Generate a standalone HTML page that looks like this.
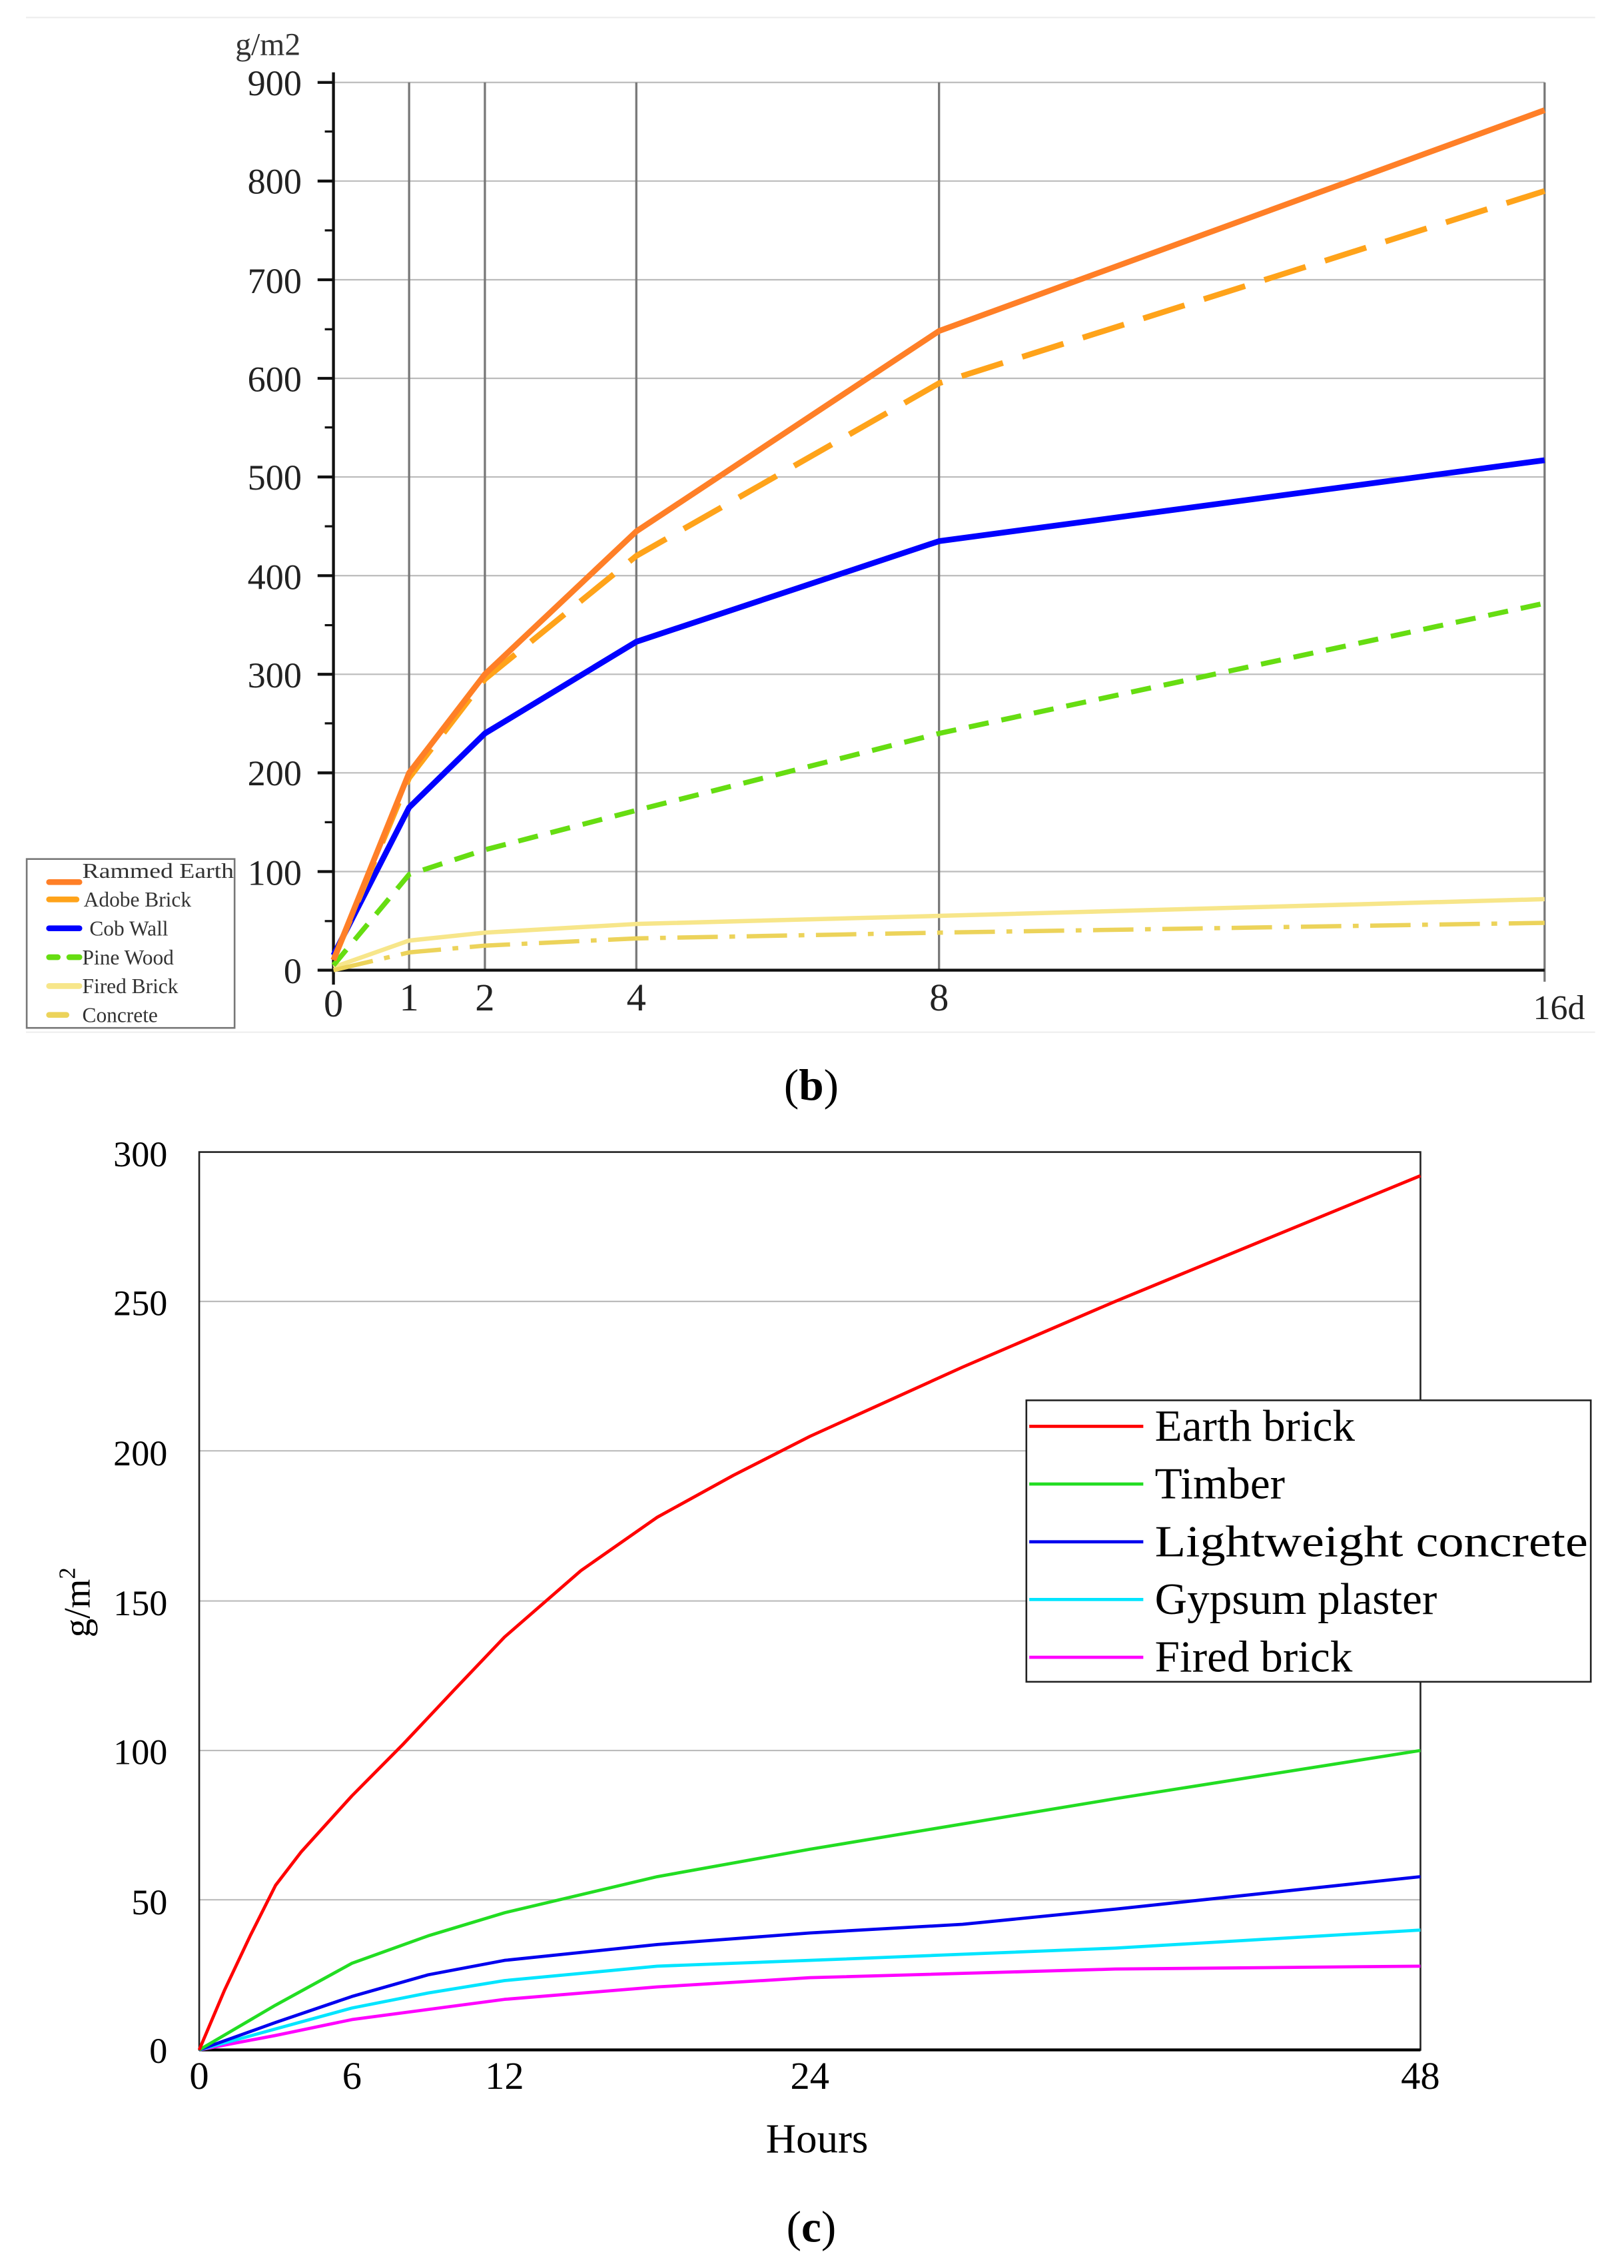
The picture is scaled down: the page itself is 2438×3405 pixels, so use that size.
<!DOCTYPE html>
<html><head><meta charset="utf-8"><style>html,body{margin:0;padding:0;background:#fff}svg{display:block}</style></head>
<body>
<svg width="2438" height="3405" viewBox="0 0 1125 1571" xmlns="http://www.w3.org/2000/svg" font-family="Liberation Serif, serif">
<rect width="1125" height="1571" fill="#fff"/>
<!-- chart b -->
<line x1="18" y1="12" x2="1105" y2="12" stroke="#eee" stroke-width="1"/>
<line x1="18" y1="715" x2="1105" y2="715" stroke="#eee" stroke-width="1"/>
<g stroke="#bbb" stroke-width="1">
<line x1="231" y1="57" x2="1070" y2="57"/><line x1="231" y1="125.3" x2="1070" y2="125.3"/><line x1="231" y1="193.7" x2="1070" y2="193.7"/><line x1="231" y1="262" x2="1070" y2="262"/><line x1="231" y1="330.3" x2="1070" y2="330.3"/><line x1="231" y1="398.7" x2="1070" y2="398.7"/><line x1="231" y1="467" x2="1070" y2="467"/><line x1="231" y1="535.3" x2="1070" y2="535.3"/><line x1="231" y1="603.7" x2="1070" y2="603.7"/>
</g>
<g stroke="#777" stroke-width="1.5">
<line x1="283.4" y1="57" x2="283.4" y2="672"/><line x1="335.9" y1="57" x2="335.9" y2="672"/><line x1="440.8" y1="57" x2="440.8" y2="672"/><line x1="650.5" y1="57" x2="650.5" y2="672"/><line x1="1070" y1="57" x2="1070" y2="680"/>
</g>
<g stroke="#111" stroke-width="2">
<line x1="231" y1="50" x2="231" y2="682"/><line x1="220" y1="672" x2="1070" y2="672"/>
<line x1="220" y1="57" x2="231" y2="57"/><line x1="220" y1="125.3" x2="231" y2="125.3"/><line x1="220" y1="193.7" x2="231" y2="193.7"/><line x1="220" y1="262" x2="231" y2="262"/><line x1="220" y1="330.3" x2="231" y2="330.3"/><line x1="220" y1="398.7" x2="231" y2="398.7"/><line x1="220" y1="467" x2="231" y2="467"/><line x1="220" y1="535.3" x2="231" y2="535.3"/><line x1="220" y1="603.7" x2="231" y2="603.7"/>
</g>
<g stroke="#111" stroke-width="1.5">
<line x1="225" y1="91" x2="231" y2="91"/><line x1="225" y1="159.5" x2="231" y2="159.5"/><line x1="225" y1="228" x2="231" y2="228"/><line x1="225" y1="296" x2="231" y2="296"/><line x1="225" y1="364.5" x2="231" y2="364.5"/><line x1="225" y1="433" x2="231" y2="433"/><line x1="225" y1="501" x2="231" y2="501"/><line x1="225" y1="569.5" x2="231" y2="569.5"/><line x1="225" y1="638" x2="231" y2="638"/>
</g>
<g font-size="25" fill="#222" text-anchor="end">
<text x="209" y="66">900</text><text x="209" y="134">800</text><text x="209" y="203">700</text><text x="209" y="271">600</text><text x="209" y="339">500</text><text x="209" y="408">400</text><text x="209" y="476">300</text><text x="209" y="544">200</text><text x="209" y="613">100</text><text x="209" y="681">0</text>
</g>
<text x="163" y="38" font-size="22" fill="#333">g/m2</text>
<g font-size="27" fill="#222" text-anchor="middle">
<text x="231" y="704">0</text><text x="283.4" y="700">1</text><text x="335.9" y="700">2</text><text x="440.8" y="700">4</text><text x="650.5" y="700">8</text><text x="1080" y="706" font-size="24">16d</text>
</g>
<g fill="none" stroke-width="4" stroke-linejoin="round">
<polyline stroke="#f7e68a" stroke-width="3" points="231,670 283.4,651.5 335.9,646 440.8,640 650.5,634.4 1070,622.8"/>
<polyline stroke="#ecd35a" stroke-width="3" stroke-dasharray="28,8,4,8" points="231,672 283.4,659.7 335.9,655 440.8,650 650.5,646 1070,639.2"/>
<polyline stroke="#66dd11" stroke-width="3.5" stroke-dasharray="14,9" points="231,668.6 283.4,605.7 335.9,588.6 440.8,561.3 650.5,508 1070,417.8"/>
<polyline stroke="#0000ff" points="231,661.7 283.4,559.3 335.9,508 440.8,444.5 650.5,374.8 1070,318.7"/>
<polyline stroke="#ffa31a" stroke-dasharray="30,14" points="231,665 283.4,538.8 335.9,470.4 440.8,385 650.5,265.4 1070,132.2"/>
<polyline stroke="#ff7f27" points="231,665 283.4,535.3 335.9,467 440.8,368 650.5,229.2 1070,76.2"/>
</g>
<rect x="18.5" y="595" width="144" height="117" fill="#fff" stroke="#777" stroke-width="1.2"/>
<g stroke-width="4" stroke-linecap="round">
<line x1="34" y1="611" x2="55" y2="611" stroke="#ff7f27"/>
<line x1="34" y1="623" x2="53" y2="623" stroke="#ffa31a"/>
<line x1="34" y1="643" x2="55" y2="643" stroke="#0000ff"/>
<line x1="34" y1="663" x2="40" y2="663" stroke="#66dd11"/><line x1="48" y1="663" x2="55" y2="663" stroke="#66dd11"/>
<line x1="34" y1="683" x2="55" y2="683" stroke="#f7e68a"/>
<line x1="34" y1="703" x2="46" y2="703" stroke="#ecd35a"/>
</g>
<g font-size="14.5" fill="#333">
<text x="57" y="608" textLength="105" lengthAdjust="spacingAndGlyphs">Rammed Earth</text><text x="58" y="628">Adobe Brick</text><text x="62" y="648">Cob Wall</text><text x="57" y="668">Pine Wood</text><text x="57" y="688">Fired Brick</text><text x="57" y="708">Concrete</text>
</g>
<text x="562" y="762" font-size="31" text-anchor="middle" fill="#000">(<tspan font-weight="bold">b</tspan>)</text>
<!-- chart c -->
<g stroke="#bbb" stroke-width="1">
<line x1="138" y1="901.5" x2="984" y2="901.5"/><line x1="138" y1="1005" x2="984" y2="1005"/><line x1="138" y1="1109" x2="984" y2="1109"/><line x1="138" y1="1212.6" x2="984" y2="1212.6"/><line x1="138" y1="1316" x2="984" y2="1316"/>
</g>
<rect x="138" y="798" width="846" height="622" fill="none" stroke="#222" stroke-width="1.2"/>
<line x1="138" y1="1420" x2="984" y2="1420" stroke="#000" stroke-width="2"/>
<g font-size="25" fill="#000" text-anchor="end">
<text x="116" y="808">300</text><text x="116" y="911">250</text><text x="116" y="1015">200</text><text x="116" y="1119">150</text><text x="116" y="1222">100</text><text x="116" y="1326">50</text><text x="116" y="1429">0</text>
</g>
<g font-size="27" fill="#000" text-anchor="middle">
<text x="138" y="1447">0</text><text x="243.8" y="1447">6</text><text x="349.5" y="1447">12</text><text x="561" y="1447">24</text><text x="984" y="1447">48</text>
</g>
<text x="566" y="1491" font-size="29" text-anchor="middle">Hours</text>
<text transform="translate(62,1110) rotate(-90)" font-size="26" text-anchor="middle">g/m<tspan font-size="16" dy="-10">2</tspan></text>
<g fill="none" stroke-width="2.2" stroke-linejoin="round">
<polyline stroke="#ff00ff" points="138,1420 190.9,1410 243.8,1399 349.5,1385 455.3,1376.4 561,1370 772.5,1364 984,1362"/>
<polyline stroke="#00e5ff" points="138,1420 190.9,1405.5 243.8,1391 296.6,1380.6 349.5,1372 455.3,1362 561,1358 772.5,1349.5 984,1337"/>
<polyline stroke="#0000ee" points="138,1420 190.9,1401 243.8,1383 296.6,1368 349.5,1358 455.3,1347 561,1339 666.8,1333 772.5,1322.5 984,1300"/>
<polyline stroke="#22dd22" points="138,1420 190.9,1389 243.8,1360 296.6,1341 349.5,1325 455.3,1300 561,1281 772.5,1246 984,1212.6"/>
<polyline stroke="#ff0000" points="138,1420 155.6,1378.5 173.3,1341 190.9,1306 208.5,1283 243.8,1244 279,1208.5 314.3,1171 349.5,1134 402.4,1088 455.3,1051 508,1022 561,995 666.8,947 772.5,901.5 878,858 984,814.4"/>
</g>
<rect x="711" y="970" width="391" height="195" fill="#fff" stroke="#222" stroke-width="1.2"/>
<g stroke-width="2.2">
<line x1="713" y1="988" x2="792" y2="988" stroke="#ff0000"/>
<line x1="713" y1="1028" x2="792" y2="1028" stroke="#22dd22"/>
<line x1="713" y1="1068" x2="792" y2="1068" stroke="#0000ee"/>
<line x1="713" y1="1108" x2="792" y2="1108" stroke="#00e5ff"/>
<line x1="713" y1="1148" x2="792" y2="1148" stroke="#ff00ff"/>
</g>
<g font-size="31" fill="#000">
<text x="800" y="998">Earth brick</text><text x="800" y="1038">Timber</text><text x="800" y="1078" textLength="300" lengthAdjust="spacingAndGlyphs">Lightweight concrete</text><text x="800" y="1118">Gypsum plaster</text><text x="800" y="1158">Fired brick</text>
</g>
<text x="562" y="1553" font-size="31" text-anchor="middle" fill="#000">(<tspan font-weight="bold">c</tspan>)</text>
</svg>
</body></html>
